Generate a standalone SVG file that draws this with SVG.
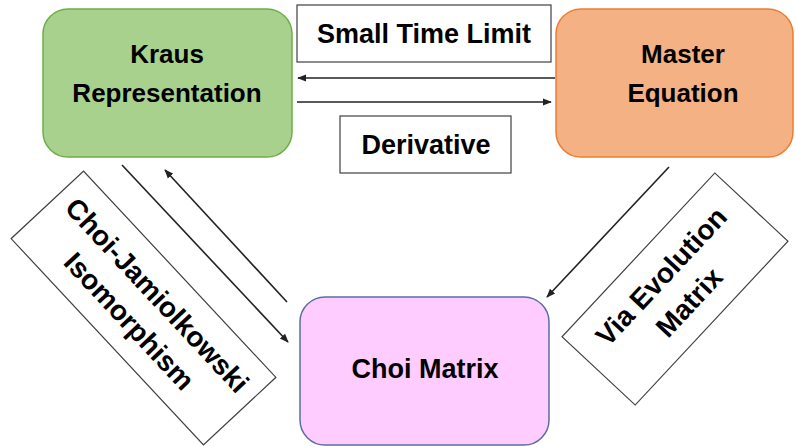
<svg xmlns="http://www.w3.org/2000/svg" width="795" height="447" viewBox="0 0 795 447">
<style>
.t{font-family:"Liberation Sans",Arial,sans-serif;font-weight:bold;fill:#000;text-anchor:middle}
.n{font-size:26px}
.l{font-size:27px}
.r{font-size:28px}
.lbl{fill:#fff;stroke:#404040;stroke-width:1.2}
.c{stroke:#222;stroke-width:1.6;fill:none;marker-end:url(#ah)}
</style>
<defs>
<marker id="ah" viewBox="0 0 10 10" refX="9" refY="5" markerWidth="9" markerHeight="9" markerUnits="userSpaceOnUse" orient="auto">
<path d="M0,1 L10,5 L0,9 Z" fill="#222"/>
</marker>
</defs>
<rect width="795" height="447" fill="#fff"/>
<g id="kraus">
<rect x="43" y="9" width="249" height="148" rx="25" fill="#a9d18e" stroke="#70ad47" stroke-width="1.5"/>
<text class="t n" x="167" y="63">Kraus</text>
<text class="t n" x="167" y="102">Representation</text>
</g>
<g id="master">
<rect x="556" y="9" width="237" height="148" rx="25" fill="#f4b183" stroke="#ed7d31" stroke-width="1.5"/>
<text class="t n" x="683" y="63">Master</text>
<text class="t n" x="683" y="102">Equation</text>
</g>
<g id="choi">
<rect x="300" y="297" width="249" height="148" rx="25" fill="#ffccff" stroke="#5b6ea3" stroke-width="1.5"/>
<text class="t l" x="425" y="378">Choi Matrix</text>
</g>
<g id="label-small-time">
<rect class="lbl" x="297" y="5" width="254" height="57"/>
<text class="t l" x="424" y="43">Small Time Limit</text>
</g>
<g id="label-derivative">
<rect class="lbl" x="340" y="116" width="171" height="57"/>
<text class="t l" x="426" y="154">Derivative</text>
</g>
<g id="label-choi-jamiolkowski" transform="translate(143.5,308) rotate(47)">
<rect class="lbl" x="-141" y="-49.5" width="282" height="99"/>
<text class="t r" x="0" y="-9">Choi-Jamiolkowski</text>
<text class="t r" x="0" y="29">Isomorphism</text>
</g>
<g id="label-via-evolution" transform="translate(675,289) rotate(-47)">
<rect class="lbl" x="-112" y="-50" width="224" height="100"/>
<text class="t r" x="0" y="-9">Via Evolution</text>
<text class="t r" x="0" y="29">Matrix</text>
</g>
<g id="connectors">
<line class="c" x1="555" y1="78" x2="298" y2="78"/>
<line class="c" x1="297" y1="102" x2="551" y2="102"/>
<line class="c" x1="122" y1="165" x2="288" y2="342"/>
<line class="c" x1="287" y1="302" x2="165" y2="170"/>
<line class="c" x1="669" y1="167" x2="547" y2="297"/>
</g>
</svg>
